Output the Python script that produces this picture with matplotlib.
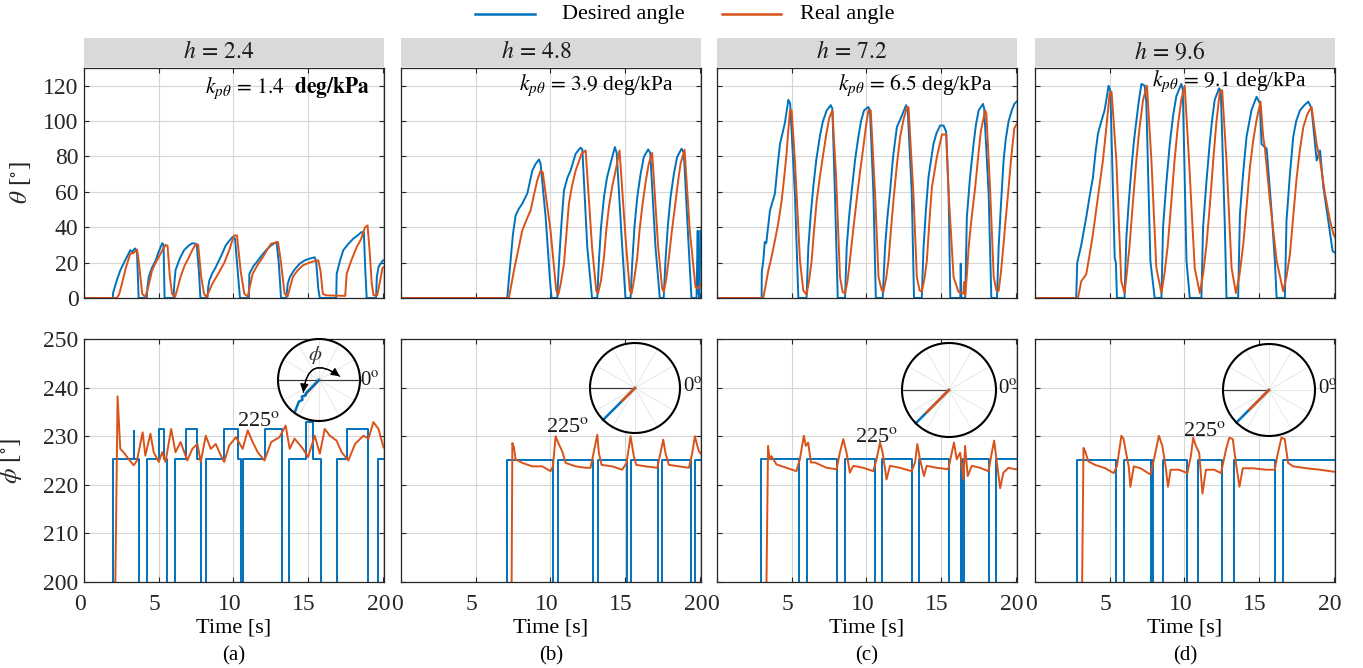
import matplotlib
matplotlib.use('Agg')
import matplotlib.pyplot as plt
import matplotlib.transforms as mtransforms
import numpy as np
from matplotlib.patches import Circle, Rectangle, FancyArrowPatch
from matplotlib.lines import Line2D

plt.rcParams['font.family'] = ['Liberation Serif', 'DejaVu Serif']
plt.rcParams['font.serif'] = ['Liberation Serif', 'DejaVu Serif']
plt.rcParams['mathtext.fontset'] = 'stix'
SERIF = 'Liberation Serif'

# ---------------- data (time [s], value) ----------------
panel_labels = ['(a)', '(b)', '(c)', '(d)']
h_values = ['2.4', '4.8', '7.2', '9.6']
k_values = ['1.4', '3.9', '6.5', '9.1']
x_ticks = [0, 5, 10, 15, 20]
theta_ticks = [0, 20, 40, 60, 80, 100, 120]
phi_ticks = [200, 210, 220, 230, 240, 250]

theta_des_a = [(0,0),(1.93,0),(1.95,3),(2.2,10),(2.43,15.6),(2.8,22),(3.1,27),(3.25,26),(3.35,27.5),(3.44,28),(3.55,26),(3.62,10),(3.66,0),(4.2,0),(4.25,6),(4.34,12),(4.55,17),(4.79,21),(5.0,26),(5.24,31),(5.33,30),(5.4,0),(6.0,0),(6.05,8),(6.13,15.6),(6.4,22),(6.7,27),(7.0,29.5),(7.26,31),(7.55,30.5),(7.7,15),(7.8,0),(8.27,0),(8.32,6),(8.4,10),(8.6,14),(8.83,17.5),(9.2,24),(9.5,29.8),(9.75,32.5),(9.96,34.5),(10.12,33.5),(10.3,15),(10.45,0),(11.05,0),(11.08,13.7),(11.35,18),(11.64,21),(11.9,24),(12.2,27),(12.5,29.5),(12.76,31),(12.9,31.5),(13.05,20),(13.2,0),(13.55,0),(13.65,8),(13.8,12),(14.1,16),(14.45,19.4),(14.8,21.3),(15.1,22.2),(15.45,23),(15.55,21),(15.7,5),(15.8,0),(16.9,0),(16.93,13.7),(17.15,21),(17.37,27),(17.7,30.5),(18.04,33.5),(18.35,35.5),(18.6,37.3),(18.75,37),(18.85,15),(18.94,0),(19.57,0),(19.62,12),(19.73,17.5),(20.0,21),(20.2,22)]
theta_real_a = [(0,0),(2.2,0),(2.35,2),(2.54,8),(2.8,17),(3.1,25),(3.3,25.4),(3.55,27.3),(3.65,22),(3.9,2.4),(4.1,0.5),(4.3,6),(4.56,15.6),(4.8,20),(5.0,23),(5.25,27),(5.46,30),(5.6,29.5),(5.75,12),(5.9,2.4),(6.1,0.5),(6.25,5),(6.47,12),(6.75,18.5),(7.03,23),(7.25,27),(7.48,30.3),(7.65,30),(7.85,12),(8.04,2.4),(8.2,0.5),(8.6,8),(9.06,14.7),(9.4,20),(9.73,27),(9.9,31.5),(10.07,35.4),(10.25,35.3),(10.5,15),(10.74,2.4),(10.97,0.8),(11.1,6),(11.3,13.7),(11.65,19),(11.98,23),(12.25,27),(12.54,30.7),(13.0,31.6),(13.2,20),(13.44,2.4),(13.65,1),(13.8,6),(14.0,12),(14.3,15.5),(14.67,18.5),(15.2,20.3),(15.7,21.3),(15.85,15),(16.0,2.4),(16.2,1.5),(17.5,1.2),(17.6,13.7),(17.9,21),(18.27,28.8),(18.55,33),(18.83,40),(19.0,41),(19.15,25),(19.28,8),(19.4,1.5),(19.64,1.5),(19.8,8),(20.0,17),(20.2,18)]

theta_des_b = [(0,0),(7.12,0),(7.2,8),(7.34,21),(7.5,36),(7.68,46.7),(7.9,50.5),(8.12,53.3),(8.46,59),(8.8,72),(9.0,75.5),(9.24,78.3),(9.35,76),(9.69,45.8),(10.0,8),(10.09,0),(10.47,0),(10.58,19.4),(10.75,42),(10.92,60.8),(11.15,68),(11.36,72),(11.7,81.5),(12.03,85),(12.15,84),(12.48,28.8),(12.8,0),(13.15,0),(13.26,21),(13.4,40),(13.6,57),(13.8,68),(14.04,76),(14.33,85.3),(14.45,82),(14.78,34.5),(15.04,0),(15.38,0),(15.5,21),(15.65,41),(15.83,57),(16.05,70),(16.27,79.7),(16.56,84),(16.7,82),(17.05,28.8),(17.34,0),(17.6,0),(17.72,21),(17.88,41),(18.06,57),(18.28,70),(18.5,79.7),(18.8,84.4),(18.95,82),(19.24,34.5),(19.46,0),(19.8,0),(19.88,38),(19.92,3),(20.0,0),(20.05,38)]
theta_real_b = [(0,0),(7.23,0),(7.57,15.6),(7.85,27),(8.12,38),(8.4,44),(8.68,49.5),(8.9,58),(9.13,66.5),(9.35,72),(9.5,71),(10.02,38),(10.4,4.3),(10.54,1.9),(10.7,8),(10.92,19.4),(11.1,38),(11.25,53.3),(11.45,63),(11.7,72),(12.1,81.5),(12.37,83.4),(12.8,28.8),(13.08,4.3),(13.2,2.5),(13.4,10),(13.6,23),(13.75,38),(13.93,51.4),(14.15,63),(14.38,72),(14.64,83.4),(15.04,34.5),(15.33,4.3),(15.45,2.5),(15.63,11),(15.83,23),(15.98,38),(16.16,51.4),(16.38,65),(16.6,75.9),(16.83,82),(17.23,28.8),(17.5,5.3),(17.6,3.5),(17.78,11),(17.95,23),(18.15,38),(18.35,51.4),(18.55,65),(18.73,75.9),(19.0,83.8),(19.35,38),(19.73,6.2),(19.9,5.3),(20.2,9)]

theta_des_c = [(0,0),(2.99,0),(3.0,14.7),(3.1,21),(3.2,31.6),(3.3,31),(3.55,49.5),(3.88,59),(4.05,74),(4.22,87),(4.55,99),(4.78,112),(4.9,110),(5.22,59),(5.45,0),(6.0,0),(6.12,28.8),(6.28,47),(6.45,62.7),(6.65,78),(6.9,91.8),(7.1,100),(7.35,106),(7.62,109),(7.73,107),(7.9,59),(8.09,0),(8.58,0),(8.69,28.8),(8.85,46),(9.03,60.8),(9.25,78),(9.47,91),(9.65,100),(9.85,106),(10.14,108),(10.25,106),(10.48,59),(10.64,0),(11.1,0),(11.26,28.8),(11.42,46),(11.6,60.8),(11.8,80),(12.05,96.5),(12.38,103),(12.67,109),(12.78,106),(13.05,59),(13.2,0),(13.72,0),(13.84,28.8),(14.0,50),(14.17,68.3),(14.5,87),(14.7,93),(14.95,97.5),(15.18,97.5),(15.35,94),(15.52,59),(15.63,0),(16.3,0),(16.33,19.4),(16.37,0),(16.63,0),(16.74,45.7),(16.95,68),(17.19,87),(17.35,98),(17.53,106),(17.82,109.7),(17.9,107),(18.2,59),(18.38,0),(18.76,0),(18.87,28.8),(19.02,52),(19.2,77.7),(19.35,90),(19.54,100),(19.75,106),(19.92,109.7),(20.2,112)]
theta_real_c = [(0,0),(3.1,0),(3.32,10),(3.44,15.6),(3.65,23),(3.88,32.5),(4.1,42),(4.33,55),(4.5,68),(4.66,81.5),(4.78,95),(4.89,106),(5.0,106),(5.22,77.7),(5.56,21),(5.78,4.3),(6.0,1.9),(6.17,10),(6.34,21),(6.5,38),(6.68,55),(6.9,69),(7.12,81.5),(7.33,93),(7.53,102),(7.73,106),(7.98,68.3),(8.24,11.9),(8.42,3.4),(8.58,2.5),(8.75,10),(8.9,21),(9.12,38),(9.35,55),(9.58,71),(9.8,85),(9.98,97),(10.14,106),(10.3,106),(10.59,59),(10.82,11.9),(11.04,4.3),(11.15,3.5),(11.33,11),(11.49,21),(11.65,38),(11.82,55),(12.05,75),(12.27,91),(12.5,101),(12.72,107.8),(12.83,107.8),(13.16,59),(13.39,11.9),(13.57,4.3),(13.72,3.5),(13.9,11),(14.06,21),(14.22,42),(14.4,62.7),(14.73,79.6),(15.07,92.4),(15.36,92.4),(15.52,59),(15.85,11.9),(16.18,3.4),(16.52,2.5),(16.56,9),(16.63,1.5),(16.75,14),(16.86,28.8),(17.08,47),(17.3,62.7),(17.5,80),(17.68,94.6),(17.97,106),(18.05,104),(18.31,59),(18.54,11.9),(18.72,4.3),(18.87,4),(19.03,15),(19.2,30.7),(19.37,47),(19.54,62.7),(19.72,80),(19.92,96),(20.2,100)]

theta_des_d = [(0,0),(2.76,0),(2.83,20),(3.1,30),(3.43,45.5),(3.65,57),(3.88,68),(4.05,82),(4.22,93),(4.45,100),(4.66,106),(4.8,113),(4.93,120),(5.05,117),(5.34,22.7),(5.42,20),(5.49,0),(6.0,0),(6.12,34),(6.28,54),(6.45,72),(6.62,88),(6.79,100),(6.95,111),(7.13,121),(7.35,120),(7.46,110),(7.73,21),(8.02,0),(8.47,0),(8.58,40),(8.8,65),(9.03,87),(9.25,103),(9.47,114),(9.8,121),(9.9,118),(10.15,21),(10.37,0),(11.15,0),(11.26,40),(11.48,65),(11.7,87),(11.87,101),(12.04,112),(12.33,118.5),(12.45,117),(12.72,40),(12.83,0),(13.61,0),(13.73,47.4),(13.95,71),(14.17,91),(14.5,106),(14.84,113.7),(15.07,110),(15.18,87),(15.52,84.4),(15.85,49),(16.07,21),(16.19,0),(16.74,0),(16.85,43.6),(17.08,70),(17.3,91),(17.5,100),(17.75,106),(18.05,109),(18.31,111),(18.53,107),(18.87,77.7),(19.1,83.4),(19.32,62.6),(19.65,43.6),(19.94,26.5),(20.2,25)]
theta_real_d = [(0,0),(2.88,0),(3.1,9.5),(3.43,13.3),(3.65,24),(3.88,36),(4.2,56),(4.55,77.7),(4.8,98),(5.0,115.6),(5.13,116.6),(5.45,77.7),(5.78,9.5),(6.0,2.8),(6.15,14),(6.34,30),(6.55,53),(6.79,77.7),(7.0,96),(7.24,112),(7.5,120),(7.8,77.7),(8.13,17),(8.47,2.8),(8.68,14),(8.9,30),(9.12,53),(9.35,77.7),(9.57,97),(9.8,112),(10.03,120),(10.32,77.7),(10.7,17),(11.04,2.8),(11.27,14),(11.49,30),(11.72,53),(11.94,77.7),(12.15,99),(12.38,116.6),(12.54,117.5),(12.83,77.7),(13.17,17),(13.46,2.8),(13.7,13),(13.95,30),(14.18,52),(14.4,74),(14.62,89),(14.84,100.5),(15.11,111),(15.29,91),(15.4,85),(15.74,55),(16.19,21),(16.63,3.8),(16.85,12),(17.08,24.6),(17.3,46),(17.53,68),(17.75,84),(17.98,96.7),(18.25,104),(18.53,108),(18.87,87),(19.1,77.7),(19.43,58.8),(19.77,43.6),(20.0,36),(20.2,33)]

# desired phi: step signal (180 = undefined / off-scale)
phi_des_a = [(0,180),(1.91,225.3),(3.33,231),(3.38,225.3),(3.66,180),(4.22,225.3),(5.05,231.5),(5.39,225.3),(5.57,180),(6.07,225.3),(6.81,231.5),(7.55,225.3),(7.87,180),(8.2,225.3),(9.35,231.5),(10.3,225.3),(10.52,180),(10.63,225.3),(12.13,231.5),(13.28,180),(13.73,225.3),(14.9,233),(15.35,225.3),(15.9,180),(16.92,225.3),(17.6,231.5),(19.0,180),(19.69,225.3),(20.2,225.3)]
phi_real_a = [(0,180),(2.05,180),(2.1,200),(2.25,238.2),(2.43,227.4),(2.65,226.7),(2.99,225.3),(3.33,224.0),(3.55,225.0),(3.93,230.8),(4.11,226.0),(4.45,230.5),(4.67,226.7),(5.01,224.7),(5.24,226.7),(5.46,224.7),(5.84,231.5),(6.13,226.7),(6.47,228.8),(6.92,225.0),(7.26,227.4),(7.6,228.4),(7.82,224.7),(8.16,230.1),(8.49,227.4),(8.83,228.4),(9.17,226.0),(9.39,224.7),(9.73,228.1),(10.18,229.8),(10.63,227.4),(10.97,231.2),(11.3,228.8),(11.64,226.7),(12.09,225.0),(12.54,228.8),(13.1,229.8),(13.51,232.2),(13.78,227.4),(14.11,229.5),(14.67,227.4),(15.01,225.7),(15.46,230.1),(15.8,226.4),(16.13,231.5),(16.47,230.1),(16.92,229.1),(17.26,226.7),(17.71,225.0),(18.16,228.4),(18.72,230.1),(19.06,229.5),(19.39,232.9),(19.73,231.5),(20.07,227.7),(20.2,227.4)]

phi_des_b = [(0,180),(7.12,225.2),(10.16,180),(10.54,225.2),(12.86,180),(13.19,225.2),(15.11,180),(15.42,225.2),(17.21,180),(17.5,225.2),(19.4,180),(19.73,225.2),(20.2,225.2)]
phi_real_b = [(0,180),(7.38,180),(7.46,228.6),(7.57,227.6),(7.68,225.2),(8.13,224.5),(8.79,223.8),(9.46,223.8),(10.02,222.8),(10.18,223.8),(10.36,230.0),(10.54,228.6),(10.8,226.9),(11.03,224.5),(11.7,223.8),(12.37,223.5),(12.7,223.5),(12.86,225.9),(13.15,230.3),(13.26,226.5),(13.44,224.1),(14.15,223.8),(14.82,223.1),(15.11,224.5),(15.38,230.0),(15.6,225.9),(15.76,224.1),(16.38,223.8),(17.17,223.5),(17.34,225.9),(17.57,229.3),(17.72,226.5),(17.95,224.1),(18.62,223.8),(19.29,223.5),(19.51,226.5),(19.69,230.0),(19.84,228.2),(19.96,226.9),(20.2,226)]

phi_des_c = [(0,180),(2.98,225.25),(5.48,180),(6.0,225.25),(8.05,180),(8.57,225.25),(10.58,180),(11.05,225.25),(13.09,180),(13.53,225.25),(15.53,180),(16.33,225.25),(16.42,180),(16.58,225.25),(18.21,180),(18.7,225.25),(20.2,225.25)]
phi_real_c = [(0,180),(3.24,180),(3.42,228.0),(3.53,225.25),(3.65,225.9),(3.98,224.2),(4.65,223.5),(5.32,222.8),(5.55,225.25),(5.82,230.1),(5.95,228.0),(6.11,228.7),(6.29,224.6),(6.55,224.6),(7.34,223.5),(8.01,223.2),(8.23,226.6),(8.46,229.4),(8.68,226.6),(8.9,222.5),(9.13,223.9),(9.8,223.5),(10.47,222.8),(10.69,225.25),(10.92,228.7),(11.1,226.6),(11.36,221.1),(11.59,223.9),(12.26,223.5),(13.04,222.8),(13.27,224.6),(13.42,228.4),(13.6,225.25),(13.87,221.8),(14.05,223.9),(14.72,223.5),(15.5,223.2),(15.73,226.6),(15.88,228.7),(16.06,225.25),(16.29,226.6),(16.51,221.1),(16.62,228.0),(16.8,221.8),(17.07,223.9),(17.63,223.5),(18.19,222.8),(18.41,226.6),(18.57,229.1),(18.75,224.6),(18.97,219.3),(19.19,222.5),(19.53,223.5),(19.98,223.2),(20.2,223.2)]

phi_des_d = [(0,180),(2.8,225.2),(5.4,180),(5.99,225.2),(7.79,180),(7.83,225.2),(7.88,180),(8.55,225.2),(10.19,180),(10.93,225.2),(12.55,180),(13.36,225.2),(16.1,180),(16.64,225.2),(20.2,225.2)]
phi_real_d = [(0,180),(3.09,180),(3.25,227.6),(3.36,226.9),(3.58,224.8),(4.03,224.1),(4.71,223.4),(5.27,222.4),(5.49,223.8),(5.79,230.1),(5.94,229.4),(6.1,226.6),(6.28,223.8),(6.39,219.6),(6.62,223.8),(7.07,223.4),(7.74,222.1),(7.97,225.2),(8.3,230.1),(8.53,228.0),(8.75,223.8),(8.91,219.6),(9.09,223.1),(9.65,223.1),(10.21,222.4),(10.44,225.9),(10.6,229.7),(10.78,228.0),(11.0,226.6),(11.22,218.2),(11.45,223.1),(12.01,223.1),(12.46,222.4),(12.8,227.3),(13.02,229.7),(13.25,229.4),(13.43,225.2),(13.7,219.6),(13.92,223.4),(14.6,223.4),(15.49,223.1),(16.06,223.1),(16.28,226.6),(16.51,229.7),(16.73,229.4),(16.96,224.5),(17.29,223.8),(18.19,223.4),(19.09,223.1),(19.99,222.7),(20.2,222.7)]

theta_desired = [theta_des_a, theta_des_b, theta_des_c, theta_des_d]
theta_real = [theta_real_a, theta_real_b, theta_real_c, theta_real_d]
phi_desired = [phi_des_a, phi_des_b, phi_des_c, phi_des_d]
phi_real = [phi_real_a, phi_real_b, phi_real_c, phi_real_d]

# polar insets: (radius, angle deg) polylines
inset_des_a = [(0,225),(0.45,225),(0.5,229),(0.58,224),(0.63,230),(0.72,227),(0.98,233)]
inset_real_a = [(0,227),(0.52,227)]
inset_des = [inset_des_a, [(0,225),(1.0,225)], [(0,225),(1.0,225)], [(0,225),(1.0,225)]]
inset_real = [inset_real_a, [(0,225),(0.4,225)], [(0,225),(0.67,225)], [(0,225),(0.6,225)]]

# ---------------- style / layout ----------------
W, H = 1363, 668
fig = plt.figure(figsize=(W/100, H/100), dpi=100)
BLUE = '#0072BD'
ORANGE = '#D95319'
AXC = '#262626'
GRID = '#D6D6D6'
FS = 16
TFS = 17


def frac(x, y, w, h):
    return [x / W, 1 - (y + h) / H, w / W, h / H]


lefts = [84, 401, 717, 1035]
AW = 300
top_y, top_h = 68, 230
bot_y, bot_h = 339, 243
inset_geo = [(319, 380, 41), (635, 388, 45), (949, 390, 47), (1269, 390, 46)]
lbl225 = [(259, 421), (568, 428), (877, 437), (1205, 432)]
lbl0 = [(370, 381), (693, 388), (1008, 390), (1328, 389)]
kpos = [(205, 88), (519, 85), (838, 85), (1152, 81)]
xlabel_shift = mtransforms.ScaledTranslation(-4 / 100, 0, fig.dpi_scale_trans)


def style(ax, yt, ylabels, xlabels):
    ax.set_xlim(0, 20.1)
    ax.set_xticks(x_ticks, labels=[str(v) for v in x_ticks], fontfamily=SERIF, fontsize=TFS)
    ax.set_yticks(yt, labels=[str(v) for v in yt], fontfamily=SERIF, fontsize=TFS)
    ax.grid(True, color=GRID, lw=0.8)
    ax.set_axisbelow(True)
    ax.tick_params(direction='in', length=3.5, width=0.8, top=True, right=True,
                   colors=AXC, labelleft=ylabels, labelbottom=xlabels)
    ax.tick_params(axis='x', pad=8.5)
    ax.tick_params(axis='y', pad=4)
    for lab in ax.get_xticklabels():
        lab.set_transform(lab.get_transform() + xlabel_shift)
    for s in ax.spines.values():
        s.set_color(AXC)
        s.set_linewidth(0.9)


for i in range(4):
    L = lefts[i]
    # header strip
    fig.add_artist(Rectangle((L / W, 1 - 66.5 / H), AW / W, 28.5 / H,
                             transform=fig.transFigure, facecolor='#D9D9D9', edgecolor='none'))
    fig.text((L + AW / 2 - 15) / W, 1 - 52 / H, r'$h\,=\,%s$' % h_values[i], ha='center', va='center',
             fontsize=17, color='#1a1a1a')

    # top: theta
    ax = fig.add_axes(frac(L, top_y, AW, top_h))
    d = np.array(theta_desired[i]); r = np.array(theta_real[i])
    ax.plot(d[:, 0], d[:, 1], color=BLUE, lw=1.4)
    ax.plot(r[:, 0], r[:, 1], color=ORANGE, lw=1.4)
    ax.set_ylim(0, 130)
    style(ax, theta_ticks, i == 0, False)
    if i == 0:
        ax.set_ylabel(r'$\theta$ [$^{\circ}$]', fontsize=18, color=AXC)
        ax.yaxis.set_label_coords(-0.17, 0.5)
        ktxt = r'$k_{p\theta}\,=\,%s$  $\mathbf{deg/kPa}$' % k_values[i]
    else:
        ktxt = r'$k_{p\theta}\,=\,%s$ deg/kPa' % k_values[i]
    fig.text(kpos[i][0] / W, 1 - kpos[i][1] / H, ktxt, ha='left', va='center', fontsize=15.5, color='black')

    # bottom: phi
    ax2 = fig.add_axes(frac(L, bot_y, AW, bot_h))
    d = np.array(phi_desired[i]); r = np.array(phi_real[i])
    ax2.plot(d[:, 0], d[:, 1], color=BLUE, lw=1.4, drawstyle='steps-post')
    ax2.plot(r[:, 0], r[:, 1], color=ORANGE, lw=1.4)
    ax2.set_ylim(200, 250)
    style(ax2, phi_ticks, i == 0, True)
    ax2.set_xlabel('Time [s]', fontsize=FS, color='black', labelpad=3)
    if i == 0:
        ax2.set_ylabel(r'$\phi$ [$^{\circ}$]', fontsize=18, color=AXC)
        ax2.yaxis.set_label_coords(-0.2, 0.5)
    fig.text((L + AW / 2) / W, 1 - 656 / H, panel_labels[i], ha='center', va='center', fontsize=15)

    # polar inset
    cx, cy, rad = inset_geo[i]
    ia = fig.add_axes(frac(cx - rad - 2, cy - rad - 2, 2 * rad + 4, 2 * rad + 4))
    lim = (rad + 2) / rad
    ia.set_xlim(-lim, lim); ia.set_ylim(-lim, lim)
    ia.set_aspect('equal'); ia.axis('off')
    ia.add_patch(Circle((0, 0), 1, facecolor='white', edgecolor='none', zorder=0))
    for ang in range(0, 360, 30):
        a = np.deg2rad(ang)
        ia.plot([0, np.cos(a)], [0, np.sin(a)], color='#E4E4E4', lw=0.6, zorder=1)
    if i == 0:
        ia.plot([-1, 1.05], [0, 0], color='#3a3a3a', lw=0.9, zorder=2)
    else:
        ia.plot([-1, 0], [0, 0], color='#3a3a3a', lw=0.9, zorder=2)
    dd = np.array(inset_des[i]); rr = np.array(inset_real[i])
    zd, zr = (4, 3) if i == 0 else (3, 4)
    ia.plot(dd[:, 0] * np.cos(np.deg2rad(dd[:, 1])), dd[:, 0] * np.sin(np.deg2rad(dd[:, 1])),
            color=BLUE, lw=1.8, zorder=zd)
    ia.plot(rr[:, 0] * np.cos(np.deg2rad(rr[:, 1])), rr[:, 0] * np.sin(np.deg2rad(rr[:, 1])),
            color=ORANGE, lw=1.8, zorder=zr)
    ia.add_patch(Circle((0, 0), 1, facecolor='none', edgecolor='black', lw=1.5, zorder=5))
    if i == 0:
        arr = FancyArrowPatch((-0.39, -0.37), (0.56, 0.05), arrowstyle='-|>,head_length=5,head_width=2.5',
                              connectionstyle='arc3,rad=-0.9', color='black', lw=0.9, zorder=6,
                              mutation_scale=1)
        ia.add_patch(arr)
        arr2 = FancyArrowPatch((0.56, 0.05), (-0.39, -0.37), arrowstyle='-|>,head_length=5,head_width=2.5',
                               connectionstyle='arc3,rad=0.9', color='black', lw=0.9, zorder=6,
                               mutation_scale=1)
        ia.add_patch(arr2)
        ia.text(-0.1, 0.62, r'$\phi$', ha='center', va='center', fontsize=15, color='#333333', zorder=7)
    fig.text(lbl225[i][0] / W, 1 - lbl225[i][1] / H, r'225$^{\mathrm{o}}$', ha='center', va='center',
             fontsize=16, color='#1a1a1a')
    fig.text(lbl0[i][0] / W, 1 - lbl0[i][1] / H, r'0$^{\mathrm{o}}$', ha='center', va='center',
             fontsize=15, color='#1a1a1a')

# legend
fig.add_artist(Line2D([475 / W, 535 / W], [1 - 14 / H, 1 - 14 / H], color=BLUE, lw=1.8))
fig.text(562 / W, 1 - 14 / H, 'Desired angle', ha='left', va='center', fontsize=FS)
fig.add_artist(Line2D([722 / W, 781 / W], [1 - 14 / H, 1 - 14 / H], color=ORANGE, lw=1.8))
fig.text(800 / W, 1 - 14 / H, 'Real angle', ha='left', va='center', fontsize=FS)

fig.savefig('out.png', dpi=100, facecolor='white')
